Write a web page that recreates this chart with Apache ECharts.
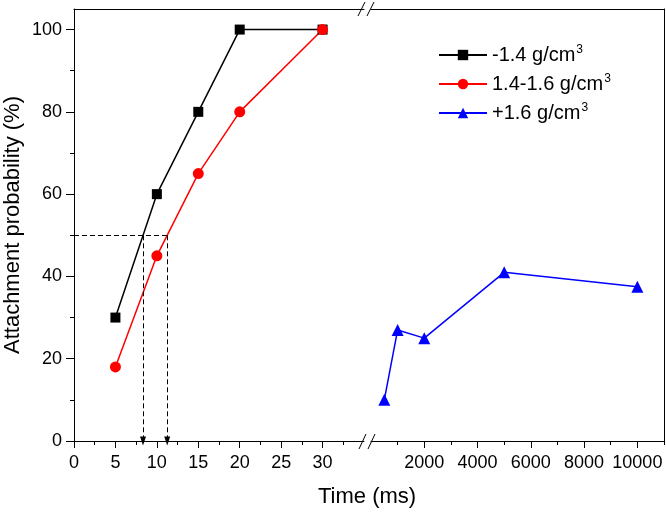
<!DOCTYPE html>
<html>
<head>
<meta charset="utf-8">
<script src="https://cdn.jsdelivr.net/npm/echarts@6/dist/echarts.min.js"></script>
<style>
  html, body { margin: 0; padding: 0; background: #fff; }
  #chart { width: 666px; height: 512px; }
</style>
</head>
<body>
<div id="chart"></div>
<script>
// data
var timeShort = [5, 10, 15, 20, 30];
var probLight = [30, 60, 80, 100, 100];
var probMid = [18, 45, 65, 80, 100];
var timeLong = [500, 1000, 2000, 5000, 10000];
var probHeavy = [10, 27, 25, 41, 37.5];
var seriesNames = ["-1.4 g/cm3", "1.4-1.6 g/cm3", "+1.6 g/cm3"];

// ticks
var yMajor = [0, 20, 40, 60, 80, 100];
var yMinor = [10, 30, 50, 70, 90];
var xShortMajor = [0, 5, 10, 15, 20, 25, 30];
var xShortMinor = [2.5, 7.5, 12.5, 17.5, 22.5, 27.5, 32.5];
var xLongMajor = [2000, 4000, 6000, 8000, 10000];
var xLongMinor = [1000, 3000, 5000, 7000, 9000, 11000];

// 50 % crossing guides
var halfLevel = 50;
var halfTimes = [8.33, 11.25];

var FONT = "Liberation Sans, Arial, sans-serif";

function pairs(xs, ys) {
	return xs.map(function (x, i) { return [x, ys[i]]; });
}

var chart = echarts.init(document.getElementById("chart"));

var tickLabel = { color: "#000", fontFamily: FONT, fontSize: 18, formatter: function (v) { return String(v); } };

function bottomAxis(grid, min, max, major, showLabels) {
	return {
		type: "value", gridIndex: grid, position: "bottom", min: min, max: max,
		axisLine: { show: true, onZero: false, lineStyle: { color: "#000", width: 1 } },
		axisTick: { show: true, inside: false, length: 7, customValues: major, lineStyle: { color: "#000" } },
		axisLabel: Object.assign({ show: showLabels, margin: 13, customValues: major }, tickLabel),
		splitLine: { show: false },
	};
}
function minorAxis(grid, min, max, minor, pos) {
	return {
		type: "value", gridIndex: grid, position: pos, min: min, max: max,
		axisLine: { show: false },
		axisTick: { show: true, length: 4, customValues: minor, lineStyle: { color: "#000" } },
		axisLabel: { show: false },
		splitLine: { show: false },
	};
}
function frameAxis(grid, min, max, pos) {
	return {
		type: "value", gridIndex: grid, position: pos, min: min, max: max,
		axisLine: { show: true, onZero: false, lineStyle: { color: "#000", width: 1 } },
		axisTick: { show: false }, axisLabel: { show: false }, splitLine: { show: false },
	};
}

var option = {
	animation: false,
	backgroundColor: "#fff",
	grid: [
		{ left: 74, top: 9, width: 290, height: 432 },
		{ left: 371, top: 9, width: 293, height: 432 },
	],
	xAxis: [
		bottomAxis(0, 0, 35, xShortMajor, true),
		minorAxis(0, 0, 35, xShortMinor, "bottom"),
		frameAxis(0, 0, 35, "top"),
		bottomAxis(1, 0, 11000, xLongMajor, true),
		minorAxis(1, 0, 11000, xLongMinor, "bottom"),
		frameAxis(1, 0, 11000, "top"),
	],
	yAxis: [
		{
			type: "value", gridIndex: 0, position: "left", min: 0, max: 105,
			name: "Attachment probability (%)", nameLocation: "middle", nameGap: 50,
			nameTextStyle: { color: "#000", fontFamily: FONT, fontSize: 22 },
			axisLine: { show: true, onZero: false, lineStyle: { color: "#000", width: 1 } },
			axisTick: { show: true, length: 8, customValues: yMajor, lineStyle: { color: "#000" } },
			axisLabel: Object.assign({ margin: 12, customValues: yMajor }, tickLabel),
			splitLine: { show: false },
		},
		minorAxis(0, 0, 105, yMinor, "left"),
		frameAxis(1, 0, 105, "right"),
	],
	legend: {
		orient: "vertical",
		left: 433,
		top: 39,
		itemWidth: 48,
		itemHeight: 13,
		itemGap: 7,
		data: seriesNames,
		formatter: function (name) {
			return "{t|" + name.slice(0, -1) + "}{s|3}";
		},
		textStyle: {
			color: "#000",
			fontFamily: FONT,
			rich: {
				t: { fontFamily: FONT, fontSize: 20, lineHeight: 22, color: "#000" },
				s: { fontFamily: FONT, fontSize: 12, lineHeight: 22, verticalAlign: "top", padding: [0, 0, 10, 1], color: "#000" },
			},
		},
	},
	graphic: [
		{
			type: "text", left: 369 - 51, top: 486,
			style: { text: "Time (ms)", fill: "#000", font: "22px " + FONT },
		},
		// axis break marks
		{ type: "line", shape: { x1: 358, y1: 16, x2: 365, y2: 2 }, style: { stroke: "#000", lineWidth: 1 } },
		{ type: "line", shape: { x1: 367, y1: 16, x2: 374, y2: 2 }, style: { stroke: "#000", lineWidth: 1 } },
		{ type: "line", shape: { x1: 359, y1: 449, x2: 366, y2: 434 }, style: { stroke: "#000", lineWidth: 1 } },
		{ type: "line", shape: { x1: 368, y1: 449, x2: 375, y2: 434 }, style: { stroke: "#000", lineWidth: 1 } },
	],
	series: [
		{
			name: seriesNames[0], type: "line", xAxisIndex: 0, yAxisIndex: 0,
			data: pairs(timeShort, probLight),
			symbol: "rect", symbolSize: 10,
			itemStyle: { color: "#000" }, lineStyle: { color: "#000", width: 1.5 },
			markLine: {
				silent: true, symbol: ["none", "none"],
				label: { show: false },
				lineStyle: { color: "#000", width: 1, type: [5, 3] },
				emphasis: { disabled: true },
				data: [
					[{ coord: [0, halfLevel] }, { coord: [halfTimes[1], halfLevel] }],
					[{ coord: [halfTimes[0], halfLevel] }, { coord: [halfTimes[0], 0], symbol: "triangle", symbolSize: [6, 9] }],
					[{ coord: [halfTimes[1], halfLevel] }, { coord: [halfTimes[1], 0], symbol: "triangle", symbolSize: [6, 9] }],
				],
			},
		},
		{
			name: seriesNames[1], type: "line", xAxisIndex: 0, yAxisIndex: 0,
			data: pairs(timeShort, probMid),
			symbol: "circle", symbolSize: 11,
			itemStyle: { color: "#ff0000" }, lineStyle: { color: "#ff0000", width: 1.5 },
		},
		{
			name: seriesNames[2], type: "line", xAxisIndex: 3, yAxisIndex: 2,
			data: pairs(timeLong, probHeavy),
			symbol: "triangle", symbolSize: 12,
			itemStyle: { color: "#0000ff" }, lineStyle: { color: "#0000ff", width: 1.5 },
		},
	],
};

chart.setOption(option);
</script>
</body>
</html>
